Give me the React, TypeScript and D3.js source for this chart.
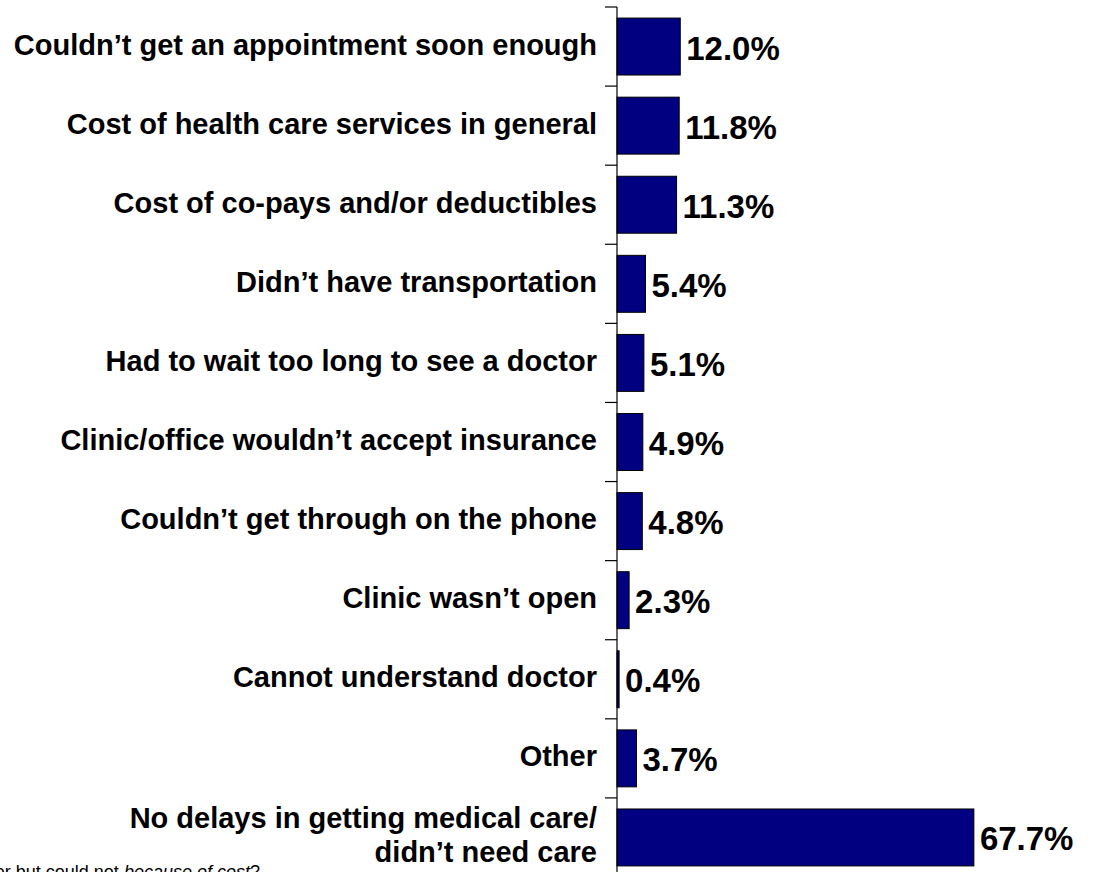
import * as d3 from 'd3';

const categories = [
  ['Couldn\u2019t get an appointment soon enough'],
  ['Cost of health care services in general'],
  ['Cost of co-pays and/or deductibles'],
  ['Didn\u2019t have transportation'],
  ['Had to wait too long to see a doctor'],
  ['Clinic/office wouldn\u2019t accept insurance'],
  ['Couldn\u2019t get through on the phone'],
  ['Clinic wasn\u2019t open'],
  ['Cannot understand doctor'],
  ['Other'],
  ['No delays in getting medical care/', 'didn\u2019t need care'],
];
const values = [12.0, 11.8, 11.3, 5.4, 5.1, 4.9, 4.8, 2.3, 0.4, 3.7, 67.7];
const valueLabels = ['12.0%', '11.8%', '11.3%', '5.4%', '5.1%', '4.9%', '4.8%', '2.3%', '0.4%', '3.7%', '67.7%'];

const W = 1095;
const H = 872;
const FONT = '"Liberation Sans", Arial, sans-serif';

export default function App() {
  const keys = categories.map((c, i) => String(i));

  const x = d3.scaleLinear().domain([0, 70]).range([617, 986]);
  const y = d3.scaleBand<string>()
    .domain(keys)
    .range([7, 877])
    .paddingInner(0.28)
    .paddingOuter(0.14);

  const step = y.step();
  const half = step * y.paddingInner() / 2;
  const tickYs = keys.map(k => (y(k) as number) - half);
  tickYs.push(tickYs[tickYs.length - 1] + step);

  return (
    <svg
      width={W}
      height={H}
      style={{ position: 'absolute', left: 0, top: 0, background: '#fff' }}
      fontFamily={FONT}
    >
      {/* bars */}
      {keys.map((k, i) => (
        <rect
          key={k}
          x={x(0)}
          y={y(k)}
          width={x(values[i]) - x(0)}
          height={y.bandwidth()}
          fill="#000080"
          stroke="#000"
          strokeWidth={1}
        />
      ))}

      {/* axis */}
      <line x1={x(0)} x2={x(0)} y1={tickYs[0]} y2={H} stroke="#000" strokeWidth={1.2} />
      {tickYs.map((t, i) => (
        <line key={i} x1={x(0) - 12} x2={x(0)} y1={t} y2={t} stroke="#000" strokeWidth={1.2} />
      ))}

      {/* category labels */}
      {keys.map((k, i) => {
        const c = (y(k) as number) + y.bandwidth() / 2;
        const lines = categories[i];
        const start = c + 8 - (lines.length - 1) * 17;
        return (
          <text key={k} textAnchor="end" fontSize={29} fontWeight="bold" fill="#000">
            {lines.map((ln, j) => (
              <tspan key={j} x={597} y={start + j * 34}>{ln}</tspan>
            ))}
          </text>
        );
      })}

      {/* value labels */}
      {keys.map((k, i) => (
        <text
          key={k}
          x={x(values[i]) + 6}
          y={(y(k) as number) + y.bandwidth() / 2 + 13}
          fontSize={33}
          fontWeight="bold"
          fill="#000"
        >
          {valueLabels[i]}
        </text>
      ))}

      {/* cropped footnote */}
      <text x={260} y={878} textAnchor="end" fontSize={18} fill="#000">
        Was there a time in the past 12 months when you needed to see a doctor but could not{' '}
        <tspan fontStyle="italic">because of cost</tspan>?
      </text>
    </svg>
  );
}
